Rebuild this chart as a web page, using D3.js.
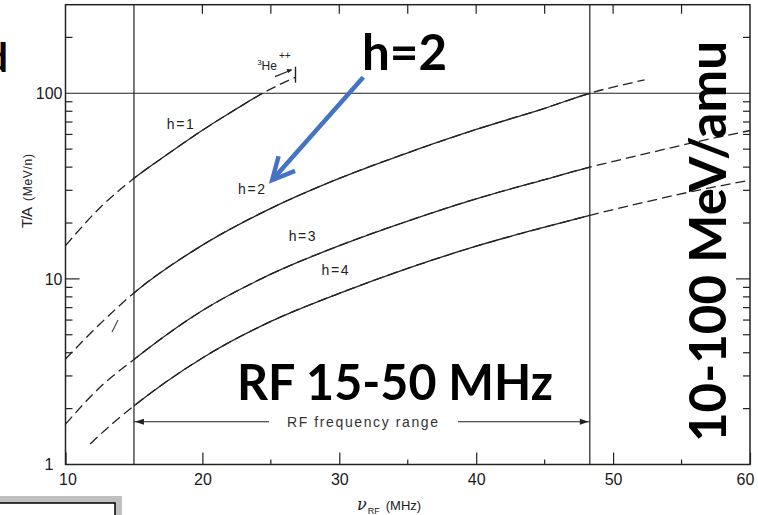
<!DOCTYPE html>
<html><head><meta charset="utf-8">
<script src="https://cdn.jsdelivr.net/npm/d3@7"></script>
<style>html,body{margin:0;padding:0;background:#fff;}svg{display:block}</style>
</head><body>
<svg id="c" width="758" height="515"></svg>
<script>
// ---- data ----
const freqH1 = [10, 12.5, 15, 17.5, 20, 22.5, 24.4, 26.8];
const taH1   = [15.1, 24.1, 34.8, 47.2, 63.2, 82.5, 100, 122];
const freqH2 = [10, 12.5, 15, 20, 25, 30, 35, 40, 45, 48.3, 52.3];
const taH2   = [3.7, 5.7, 8.4, 15.2, 24, 34.8, 47.8, 63.8, 83, 100, 118];
const freqH3 = [10, 12.5, 15, 20, 25, 30, 35, 40, 45, 48.3, 52, 56, 60];
const taH3   = [1.65, 2.6, 3.68, 6.75, 10.6, 15.1, 20.5, 27, 34.3, 40, 46.5, 54.5, 63];
const freqH4 = [11.8, 13.5, 15, 20, 25, 30, 35, 40, 45, 48.3, 52, 56, 60];
const taH4   = [1.29, 1.68, 2.07, 3.75, 5.9, 8.36, 11.4, 15, 19, 22, 25.6, 29.8, 34];
const seriesNames = ["h=1", "h=2", "h=3", "h=4"];
const xTickLabels = [10, 20, 30, 40, 50, 60];
const xMinorTicks = [25, 35, 45, 55];
const xTopTicks = [20, 25, 30, 35, 40, 45, 50, 55];
const yTickLabels = [1, 10, 100];
const yMinorTicks = [2, 3, 4, 5, 6, 7, 8, 9, 20, 30, 40, 50, 60, 70, 80, 90, 200];
const rfRange = [15, 48.3];
const refEnergy = 100;
// label anchor positions in data units [freq, T/A]
const curveLabelPos = [[17.4, 64], [22.6, 28.5], [26.3, 16], [28.7, 10.5]];
const heBarTA = [114, 139];
const heArrowFrom = [25.3, 123], heArrowTo = [26.5, 133.5];
const heLabelPos = [24.0, 133.6];
const rfArrowTA = 1.70;
const blueArrowFrom = [31.75, 122], blueArrowTo = [25.1, 34.1];

// ---- scales ----
const x = d3.scaleLinear().domain([10, 60]).range([65.5, 750]);
const y = d3.scaleLog().domain([1, 300]).range([464.5, 4.7]);
const ink = "#222";
const svg = d3.select("#c");
const scanFont = "'Liberation Sans', Arial, sans-serif";
const boldFont = "Lato, 'Open Sans', sans-serif";

// frame
svg.append("rect").attr("x", x(10)).attr("y", y(300))
  .attr("width", x(60) - x(10)).attr("height", y(1) - y(300))
  .attr("fill", "none").attr("stroke", ink).attr("stroke-width", 1.5);

// reference lines
rfRange.forEach(f => svg.append("line").attr("x1", x(f)).attr("x2", x(f))
  .attr("y1", y(300)).attr("y2", y(1)).attr("stroke", ink).attr("stroke-width", 1.2));
svg.append("line").attr("x1", x(10)).attr("x2", x(60))
  .attr("y1", y(refEnergy)).attr("y2", y(refEnergy)).attr("stroke", ink).attr("stroke-width", 1.2);

// ticks
const tk = svg.append("g").attr("stroke", ink).attr("stroke-width", 1.2);
yMinorTicks.forEach(v => {
  tk.append("line").attr("x1", x(10)).attr("x2", x(10) + 7).attr("y1", y(v)).attr("y2", y(v));
  tk.append("line").attr("x1", x(60)).attr("x2", x(60) - 7).attr("y1", y(v)).attr("y2", y(v));
});
[10].forEach(v => {
  tk.append("line").attr("x1", x(10)).attr("x2", x(10) + 14).attr("y1", y(v)).attr("y2", y(v));
  tk.append("line").attr("x1", x(60)).attr("x2", x(60) - 14).attr("y1", y(v)).attr("y2", y(v));
});
xTopTicks.forEach(f => tk.append("line").attr("x1", x(f)).attr("x2", x(f)).attr("y1", y(300)).attr("y2", y(300) + 9));
xMinorTicks.forEach(f => tk.append("line").attr("x1", x(f)).attr("x2", x(f)).attr("y1", y(1)).attr("y2", y(1) - 5));

// bottom axis
const xAxis = svg.append("g").attr("transform", `translate(0,${y(1)})`)
  .call(d3.axisBottom(x).tickValues(xTickLabels).tickSizeInner(-12).tickSizeOuter(0).tickPadding(9));
xAxis.select(".domain").remove();
xAxis.selectAll("line").attr("stroke", ink).attr("stroke-width", 1.2);
xAxis.selectAll("text").attr("font-family", scanFont).attr("font-size", 16).attr("fill", "#1a1a1a")
  .attr("dx", d => d === 60 ? -5 : (d === 10 ? 2 : 0));

// left axis labels
const yAxis = svg.append("g").attr("transform", `translate(${x(10)},0)`)
  .call(d3.axisLeft(y).tickValues(yTickLabels).tickSize(0).tickPadding(3).tickFormat(d3.format("d")));
yAxis.select(".domain").remove();
yAxis.selectAll("text").attr("font-family", scanFont).attr("font-size", 16).attr("fill", "#1a1a1a")
  .attr("dx", d => d === 1 ? -9 : 0);

// axis titles
const yt = svg.append("g").attr("transform", `translate(32,${y(18.8)}) rotate(-90)`)
  .attr("font-family", scanFont).attr("fill", ink);
yt.append("text").attr("x", 0).attr("y", 0).attr("font-size", 15).attr("textLength", 21).text("T/A");
yt.append("text").attr("x", 27).attr("y", 0).attr("font-size", 12).attr("textLength", 47).text("(MeV/n)");

const xt = svg.append("text").attr("x", 357).attr("y", 510).attr("font-family", scanFont).attr("fill", ink);
xt.append("tspan").attr("font-family", "'DejaVu Serif', serif").attr("font-style", "italic").attr("font-size", 16).text("ν");
xt.append("tspan").attr("font-size", 9).attr("dy", 4).attr("dx", 1).text("RF");
xt.append("tspan").attr("font-size", 13).attr("dy", -4).attr("dx", 6).text("(MHz)");

// curves
const lineGen = d3.line().x(d => x(d[0])).y(d => y(d[1])).curve(d3.curveMonotoneX);
const data = [
  d3.zip(freqH1, taH1), d3.zip(freqH2, taH2), d3.zip(freqH3, taH3), d3.zip(freqH4, taH4)
];
svg.append("clipPath").attr("id", "solidClip").append("rect")
  .attr("x", x(rfRange[0])).attr("y", y(refEnergy))
  .attr("width", x(rfRange[1]) - x(rfRange[0])).attr("height", y(1) - y(refEnergy));
data.forEach(d => {
  svg.append("path").attr("d", lineGen(d)).attr("fill", "none").attr("stroke", ink)
    .attr("stroke-width", 1.3).attr("stroke-dasharray", "10,5");
  svg.append("path").attr("d", lineGen(d)).attr("fill", "none").attr("stroke", ink)
    .attr("stroke-width", 1.3).attr("clip-path", "url(#solidClip)");
});
// curve labels
seriesNames.forEach((n, i) => {
  svg.append("text").attr("x", x(curveLabelPos[i][0])).attr("y", y(curveLabelPos[i][1]))
    .attr("font-family", scanFont).attr("font-size", 14).attr("fill", ink)
    .attr("textLength", 27).text(n);
});

// 3He++ marker
const fEnd = freqH1[freqH1.length - 1];
svg.append("line").attr("x1", x(fEnd)).attr("x2", x(fEnd)).attr("y1", y(heBarTA[0])).attr("y2", y(heBarTA[1]))
  .attr("stroke", ink).attr("stroke-width", 1.4);
svg.append("line").attr("x1", x(heArrowFrom[0])).attr("y1", y(heArrowFrom[1]))
  .attr("x2", x(heArrowTo[0])).attr("y2", y(heArrowTo[1])).attr("stroke", ink).attr("stroke-width", 1.2);
{
  const tx = x(heArrowTo[0]), ty = y(heArrowTo[1]);
  svg.append("path").attr("d", `M${tx + 1},${ty - 0.5} L${tx - 5},${ty - 1} L${tx - 3},${ty + 3} Z`).attr("fill", ink);
}
const he = svg.append("text").attr("x", x(heLabelPos[0])).attr("y", y(heLabelPos[1]))
  .attr("font-family", scanFont).attr("fill", ink);
he.append("tspan").attr("font-size", 8).attr("dy", -5).text("3");
he.append("tspan").attr("font-size", 12).attr("dy", 5).text("He");
he.append("tspan").attr("font-size", 10).attr("dy", -11).attr("dx", 2).text("++");

// RF frequency range arrows
const ry = y(rfArrowTA);
const rf = svg.append("g").attr("stroke", ink).attr("stroke-width", 1.1);
rf.append("line").attr("x1", x(rfRange[0])).attr("x2", 269).attr("y1", ry).attr("y2", ry);
rf.append("line").attr("x1", 458).attr("x2", x(rfRange[1])).attr("y1", ry).attr("y2", ry);
svg.append("path").attr("d", `M${x(rfRange[0]) + 1},${ry} l9,-3 l0,6 Z`).attr("fill", ink);
svg.append("path").attr("d", `M${x(rfRange[1]) - 1},${ry} l-9,-3 l0,6 Z`).attr("fill", ink);
svg.append("text").attr("x", 287).attr("y", ry + 5.5).attr("font-family", scanFont)
  .attr("font-size", 14).attr("fill", "#333").attr("textLength", 151).attr("lengthAdjust", "spacing")
  .text("RF frequency range");

// small scan mark
svg.append("line").attr("x1", 112).attr("y1", 332).attr("x2", 118).attr("y2", 320)
  .attr("stroke", "#444").attr("stroke-width", 1.1);

// blue arrow
{
  const sx = x(blueArrowFrom[0]), sy = y(blueArrowFrom[1]);
  const ex = x(blueArrowTo[0]), ey = y(blueArrowTo[1]);
  const dx = ex - sx, dy = ey - sy, L = Math.hypot(dx, dy);
  const ux = dx / L, uy = dy / L, nx = -uy, ny = ux;
  const bx = ex - 22 * ux, by = ey - 22 * uy;
  svg.append("line").attr("x1", sx).attr("y1", sy).attr("x2", ex - 2 * ux).attr("y2", ey - 2 * uy)
    .attr("stroke", "#4472C4").attr("stroke-width", 4.5);
  svg.append("path")
    .attr("d", `M${bx + 11 * nx},${by + 11 * ny} L${ex},${ey} L${bx - 11 * nx},${by - 11 * ny}`)
    .attr("fill", "none").attr("stroke", "#4472C4").attr("stroke-width", 4.5)
    .attr("stroke-linejoin", "miter").attr("stroke-linecap", "butt");
}

// slide overlay text
svg.append("text").attr("x", 362).attr("y", 70).attr("font-family", boldFont).attr("font-weight", 700)
  .attr("font-size", 50).attr("fill", "#000").attr("textLength", 85).attr("lengthAdjust", "spacingAndGlyphs").text("h=2");
svg.append("text").attr("x", 237).attr("y", 400).attr("font-family", boldFont).attr("font-weight", 700)
  .attr("font-size", 49).attr("fill", "#000").attr("textLength", 316).attr("lengthAdjust", "spacingAndGlyphs").text("RF 15-50 MHz");
svg.append("text").attr("transform", "translate(726,442) rotate(-90)").attr("font-family", boldFont)
  .attr("font-weight", 700).attr("font-size", 51).attr("fill", "#000").attr("textLength", 401)
  .attr("lengthAdjust", "spacingAndGlyphs").text("10-100 MeV/amu");
svg.append("text").attr("x", 8).attr("y", 72).attr("text-anchor", "end").attr("font-family", boldFont)
  .attr("font-weight", 700).attr("font-size", 40).attr("fill", "#000").text("d");

// bottom-left box
svg.append("rect").attr("x", 0).attr("y", 496).attr("width", 122).attr("height", 19).attr("fill", "#c0c0c0");
svg.append("rect").attr("x", -2).attr("y", 503).attr("width", 117).attr("height", 20)
  .attr("fill", "#fff").attr("stroke", "#000").attr("stroke-width", 1.5);
</script>
</body></html>
